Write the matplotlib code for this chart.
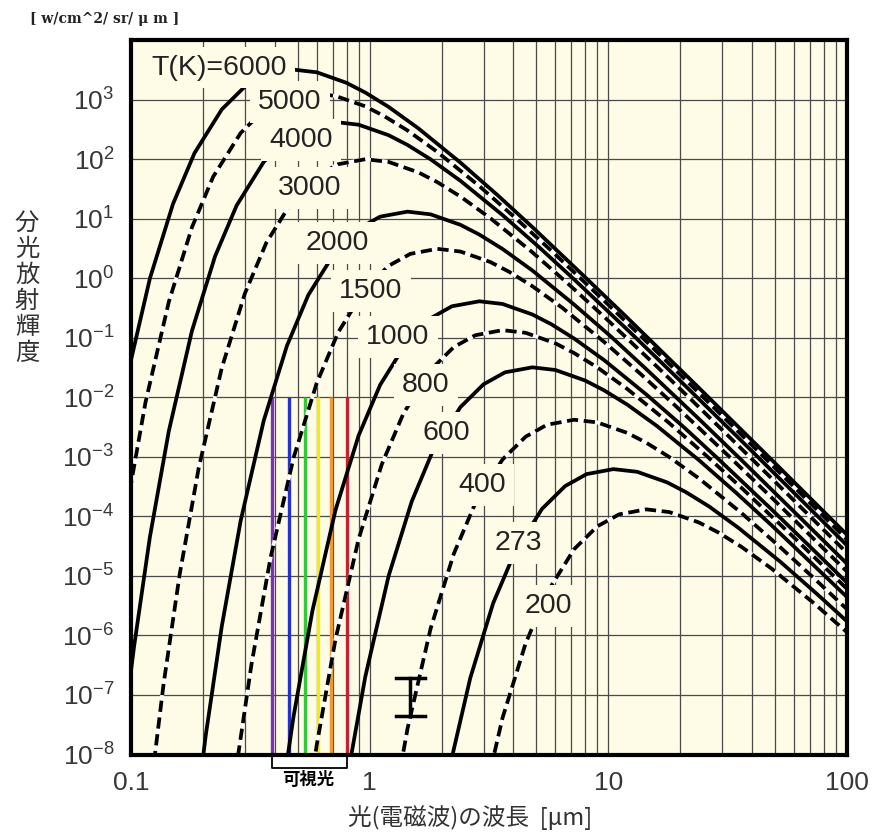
import matplotlib
matplotlib.use("Agg")
import matplotlib.pyplot as plt
import matplotlib.transforms as mtransforms
from matplotlib.ticker import FixedLocator, FixedFormatter, NullFormatter

plt.rcParams['font.family'] = ['Liberation Sans', 'Noto Sans CJK JP', 'DejaVu Sans']
plt.rcParams['mathtext.default'] = 'regular'

# ---------------- data (wavelength [um], spectral radiance [W/cm^2/sr/um]) ----------------
wl_6000 = [0.0959, 0.120, 0.150, 0.1845, 0.240, 0.300, 0.369, 0.480, 0.600, 0.799, 0.959, 1.20, 1.60, 2.40, 3.43, 4.80, 7.99, 12.0, 24.0, 48.0, 95.9, 100]
rad_6000 = [2.04e-2, 0.99, 17.7, 126, 682, 1650, 2620, 3180, 2870, 1910, 1310, 753, 328, 87.4, 24.9, 7.24, 1.04, 0.217, 1.43e-2, 9.16e-4, 5.79e-5, 4.9e-5]

wl_5000 = [0.0959, 0.115, 0.144, 0.180, 0.221, 0.288, 0.360, 0.443, 0.576, 0.719, 0.959, 1.15, 1.44, 1.92, 2.88, 4.11, 5.76, 9.59, 14.4, 28.8, 57.6, 100]
rad_5000 = [1.37e-4, 8.2e-3, 0.398, 7.13, 50.7, 274, 664, 1050, 1280, 1150, 769, 527, 303, 132, 35.2, 10.0, 2.91, 0.420, 8.73e-2, 5.74e-3, 3.68e-4, 4.08e-5]

wl_4000 = [0.0899, 0.103, 0.120, 0.144, 0.180, 0.225, 0.277, 0.360, 0.450, 0.553, 0.719, 0.899, 1.20, 1.44, 1.80, 2.40, 3.60, 5.14, 7.19, 12.0, 18.0, 36.0, 71.9, 100]
rad_4000 = [8.6e-9, 6.5e-7, 4.5e-5, 2.69e-3, 0.130, 2.33, 16.6, 89.8, 217, 345, 419, 378, 252, 173, 99.1, 43.2, 11.5, 3.28, 0.953, 0.137, 2.86e-2, 1.88e-3, 1.21e-4, 3.25e-5]

wl_3000 = [0.120, 0.137, 0.160, 0.192, 0.240, 0.300, 0.369, 0.480, 0.600, 0.738, 0.959, 1.20, 1.60, 1.92, 2.40, 3.20, 4.80, 6.85, 9.59, 16.0, 24.0, 48.0, 95.9, 100]
rad_3000 = [2.04e-9, 1.55e-7, 1.07e-5, 6.37e-4, 3.09e-2, 0.553, 3.94, 21.3, 51.6, 82.0, 99.5, 89.7, 59.8, 41.0, 23.5, 10.2, 2.73, 0.778, 0.226, 3.26e-2, 6.78e-3, 4.46e-4, 2.86e-5, 2.43e-5]

wl_2000 = [0.180, 0.2055, 0.240, 0.288, 0.360, 0.450, 0.553, 0.719, 0.899, 1.107, 1.44, 1.80, 2.40, 2.88, 3.60, 4.80, 7.19, 10.3, 14.4, 24.0, 36.0, 71.9, 100]
rad_2000 = [2.69e-10, 2.05e-8, 1.41e-6, 8.39e-5, 4.07e-3, 7.29e-2, 0.519, 2.81, 6.79, 10.8, 13.1, 11.8, 7.87, 5.40, 3.10, 1.35, 0.360, 0.103, 2.98e-2, 4.30e-3, 8.93e-4, 5.87e-5, 1.60e-5]

wl_1500 = [0.274, 0.320, 0.384, 0.480, 0.600, 0.738, 0.959, 1.20, 1.48, 1.92, 2.40, 3.20, 3.84, 4.80, 6.40, 9.59, 13.7, 19.2, 32.0, 48.0, 95.9, 100]
rad_1500 = [4.85e-9, 3.34e-7, 1.99e-5, 9.66e-4, 1.73e-2, 0.123, 0.666, 1.61, 2.56, 3.11, 2.80, 1.87, 1.28, 0.735, 0.320, 8.53e-2, 2.43e-2, 7.06e-3, 1.02e-3, 2.12e-4, 1.39e-5, 1.18e-5]

wl_1000 = [0.411, 0.480, 0.576, 0.719, 0.899, 1.107, 1.44, 1.80, 2.21, 2.88, 3.60, 4.80, 5.76, 7.19, 9.59, 14.4, 20.6, 28.8, 48.0, 71.9, 100]
rad_1000 = [6.4e-10, 4.40e-8, 2.62e-6, 1.27e-4, 2.28e-3, 1.62e-2, 8.77e-2, 0.212, 0.337, 0.409, 0.369, 0.246, 0.169, 9.68e-2, 4.22e-2, 1.12e-2, 3.21e-3, 9.31e-4, 1.34e-4, 2.79e-5, 7.69e-6]

wl_800 = [0.514, 0.600, 0.719, 0.899, 1.124, 1.384, 1.80, 2.25, 2.77, 3.60, 4.50, 6.00, 7.19, 8.99, 12.0, 18.0, 25.7, 36.0, 60.0, 100]
rad_800 = [2.1e-10, 1.44e-8, 8.59e-7, 4.17e-5, 7.46e-4, 5.31e-3, 2.87e-2, 6.95e-2, 0.110, 0.134, 0.121, 8.05e-2, 5.52e-2, 3.17e-2, 1.38e-2, 3.68e-3, 1.05e-3, 3.05e-4, 4.40e-5, 6.04e-6]

wl_600 = [0.799, 0.959, 1.20, 1.50, 1.84, 2.40, 3.00, 3.69, 4.80, 6.00, 7.99, 9.59, 12.0, 16.0, 24.0, 34.3, 48.0, 79.9, 100]
rad_600 = [3.42e-9, 2.04e-7, 9.91e-6, 1.77e-4, 1.26e-3, 6.82e-3, 1.65e-2, 2.62e-2, 3.18e-2, 2.87e-2, 1.91e-2, 1.31e-2, 7.53e-3, 3.28e-3, 8.74e-4, 2.49e-4, 7.24e-5, 1.04e-5, 4.40e-6]

wl_400 = [1.20, 1.44, 1.80, 2.25, 2.77, 3.60, 4.50, 5.53, 7.19, 8.99, 12.0, 14.4, 18.0, 24.0, 36.0, 51.4, 71.9, 100]
rad_400 = [4.5e-10, 2.69e-8, 1.30e-6, 2.33e-5, 1.66e-4, 8.97e-4, 2.17e-3, 3.45e-3, 4.19e-3, 3.78e-3, 2.52e-3, 1.73e-3, 9.91e-4, 4.32e-4, 1.15e-4, 3.28e-5, 9.53e-6, 2.75e-6]

wl_273 = [2.11, 2.64, 3.29, 4.05, 5.27, 6.59, 8.11, 10.5, 13.2, 17.6, 21.1, 26.4, 35.1, 52.7, 75.3, 100]
rad_273 = [3.98e-9, 1.93e-7, 3.46e-6, 2.46e-5, 1.33e-4, 3.22e-4, 5.12e-4, 6.21e-4, 5.60e-4, 3.73e-4, 2.56e-4, 1.47e-4, 6.40e-5, 1.71e-5, 4.86e-6, 1.72e-6]

wl_200 = [2.88, 3.60, 4.50, 5.53, 7.19, 8.99, 11.1, 14.4, 18.0, 24.0, 28.8, 36.0, 48.0, 71.9, 100]
rad_200 = [8.4e-10, 4.07e-8, 7.30e-7, 5.19e-6, 2.81e-5, 6.79e-5, 1.08e-4, 1.31e-4, 1.18e-4, 7.87e-5, 5.40e-5, 3.10e-5, 1.35e-5, 3.60e-6, 1.13e-6]

temperatures = [6000, 5000, 4000, 3000, 2000, 1500, 1000, 800, 600, 400, 273, 200]
curve_wl = [wl_6000, wl_5000, wl_4000, wl_3000, wl_2000, wl_1500, wl_1000, wl_800, wl_600, wl_400, wl_273, wl_200]
curve_rad = [rad_6000, rad_5000, rad_4000, rad_3000, rad_2000, rad_1500, rad_1000, rad_800, rad_600, rad_400, rad_273, rad_200]

label_texts = ["T(K)=6000", "5000", "4000", "3000", "2000", "1500", "1000", "800", "600", "400", "273", "200"]
label_wl = [0.234, 0.464, 0.515, 0.562, 0.730, 1.013, 1.314, 1.722, 2.088, 2.954, 4.18, 5.585]
label_rad = [3450, 925, 213, 33.2, 3.95, 0.617, 0.104, 0.0162, 2.53e-3, 3.38e-4, 3.59e-5, 3.13e-6]

visible_wl = [0.39, 0.46, 0.535, 0.605, 0.69, 0.80]
visible_colors = ['#7a2fc0', '#2430d0', '#33c83c', '#f4ee10', '#f29a30', '#c8202e']
visible_top = 1e-2

x_ticks = [0.1, 1, 10, 100]
x_ticklabels = ["0.1", "1", "10", "100"]
y_ticks = [1e-8, 1e-7, 1e-6, 1e-5, 1e-4, 1e-3, 1e-2, 1e-1, 1e0, 1e1, 1e2, 1e3]
y_ticklabels = [r"$10^{-8}$", r"$10^{-7}$", r"$10^{-6}$", r"$10^{-5}$", r"$10^{-4}$", r"$10^{-3}$",
                r"$10^{-2}$", r"$10^{-1}$", r"$10^{0}$", r"$10^{1}$", r"$10^{2}$", r"$10^{3}$"]

bar_wl = [1.29, 1.475, 1.70]
bar_rad = [4.44e-8, 1.91e-7]

# ---------------- figure ----------------
BG = '#fefbe6'
fig = plt.figure(figsize=(8.72, 8.34), dpi=100)
ax = fig.add_axes([131 / 872, 1 - 754.5 / 834, 716 / 872, 714.5 / 834])
ax.set_facecolor(BG)
ax.set_xscale('log')
ax.set_yscale('log')
ax.set_xlim(0.1, 100)
ax.set_ylim(1e-8, 1e4)

ax.xaxis.set_major_locator(FixedLocator(x_ticks))
ax.xaxis.set_major_formatter(FixedFormatter(x_ticklabels))
minor_x = [m * 10.0 ** e for e in (-1, 0, 1) for m in range(2, 10)]
ax.xaxis.set_minor_locator(FixedLocator(minor_x))
ax.xaxis.set_minor_formatter(NullFormatter())
ax.yaxis.set_major_locator(FixedLocator(y_ticks))
ax.yaxis.set_major_formatter(FixedFormatter(y_ticklabels))
ax.yaxis.set_minor_locator(FixedLocator([]))

ax.grid(True, which='both', axis='x', color='#4a4a4a', lw=0.9, zorder=0)
ax.grid(True, which='major', axis='y', color='#4a4a4a', lw=0.9, zorder=0)
ax.set_axisbelow(True)
ax.tick_params(which='both', length=0, labelsize=19, labelcolor='#383838')
ax.tick_params(axis='x', pad=12)
ax.tick_params(axis='y', pad=12)
for s in ax.spines.values():
    s.set_linewidth(3.0)
    s.set_color('black')
    s.set_zorder(10)

# visible light lines
for w, c in zip(visible_wl, visible_colors):
    ax.plot([w, w], [1e-8, visible_top], color=c, lw=2.4, zorder=1.5, solid_capstyle='butt')

# radiance curves
LW = 2.7
for i, (wl, rad) in enumerate(zip(curve_wl, curve_rad)):
    if i % 2 == 0:
        ax.plot(wl, rad, color='black', lw=LW, zorder=3, solid_capstyle='butt')
    else:
        ax.plot(wl, rad, color='white', lw=LW, zorder=2.5)
        ax.plot(wl, rad, color='black', lw=LW, zorder=3, dashes=(3.0, 1.5), dash_capstyle='butt')

# curve labels
for t, lx, ly in zip(label_texts, label_wl, label_rad):
    ax.text(lx, ly, t, ha='center', va='center', fontsize=20.5, color='#222222', zorder=6,
            bbox=dict(boxstyle='square,pad=0.28', fc=BG, ec='none'))

# "I" marker
ax.plot([bar_wl[1], bar_wl[1]], bar_rad, color='black', lw=2.5, zorder=4)
ax.plot([bar_wl[0], bar_wl[2]], [bar_rad[0], bar_rad[0]], color='black', lw=2.5, zorder=4)
ax.plot([bar_wl[0], bar_wl[2]], [bar_rad[1], bar_rad[1]], color='black', lw=2.5, zorder=4)

# visible light bracket
trans = mtransforms.blended_transform_factory(ax.transData, ax.transAxes)
yb = -0.019
ax.plot([visible_wl[0], visible_wl[0], visible_wl[-1], visible_wl[-1]], [0, yb, yb, 0],
        color='black', lw=1.3, transform=trans, clip_on=False, zorder=11)
ax.text(0.551, -0.036, "可視光", transform=trans, ha='center', va='center', fontsize=12.5,
        fontweight='bold', family=['Noto Sans CJK JP', 'DejaVu Sans'], color='black')

# texts outside
fig.text(30 / 872, 1 - 19 / 834, "[ w/cm^2/ sr/ μ m ]", family='DejaVu Serif', fontweight='bold',
         fontsize=10, ha='left', va='center', color='#222222')
fig.text(27 / 872, 1 - 288 / 834, "\n".join("分光放射輝度"), ha='center', va='center', fontsize=17.5,
         linespacing=1.0, family=['Noto Sans CJK JP', 'DejaVu Sans'], color='#333333')
fig.text(470 / 872, 1 - 818 / 834, "光(電磁波)の波長  [μm]", ha='center', va='center', fontsize=17,
         family=['Noto Sans CJK JP', 'DejaVu Sans'], color='#333333')

fig.savefig("out.png", dpi=100, facecolor='white')
